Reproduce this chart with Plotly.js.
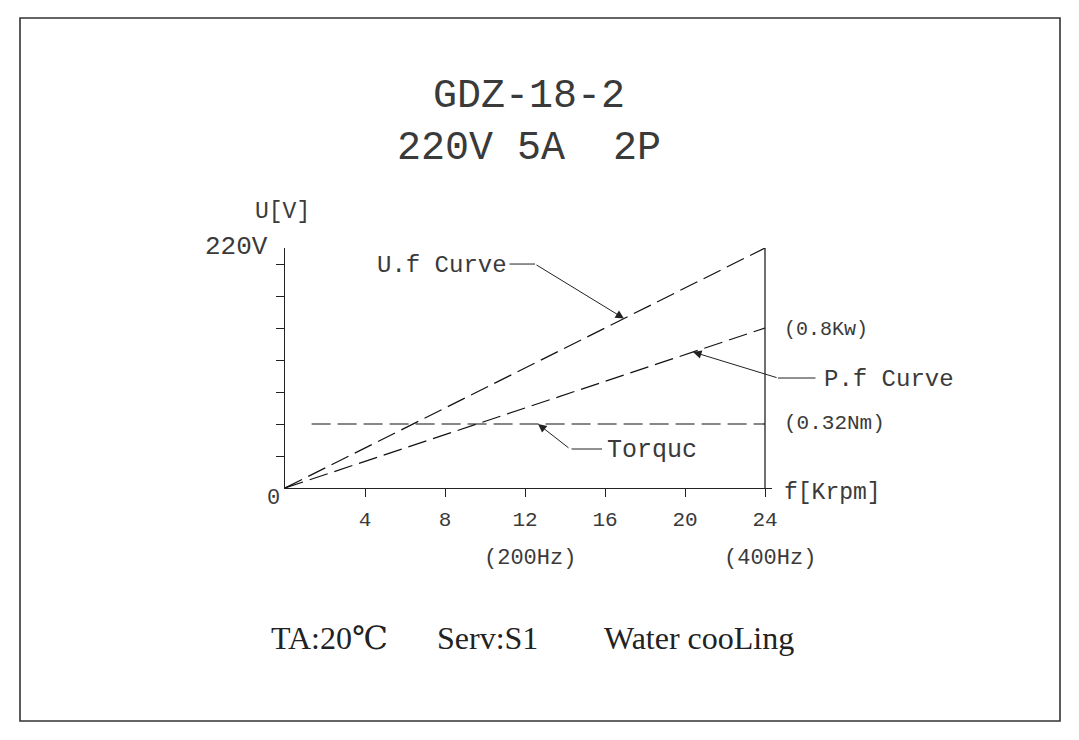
<!DOCTYPE html>
<html>
<head>
<meta charset="utf-8">
<script src="https://cdn.plot.ly/plotly-3.0.1.min.js"></script>
<style>html,body{margin:0;padding:0;background:#fff;}#chart{width:1079px;height:740px;}</style>
</head>
<body>
<div id="chart"></div>
<script>
// ---- data ----
const freqKrpm = [0, 24];            // f[Krpm]
const ufVolts = [0, 220];            // U.f curve, volts
const pfLevel = [0, 146.67];         // P.f curve, on the U scale (0.8Kw at 24 Krpm)
const torqueFreq = [1.33, 24];       // torque line extent
const torqueLevel = [58.67, 58.67];  // 0.32Nm constant torque, on the U scale
const xTickVals = [4, 8, 12, 16, 20, 24];
const xTickText = ['4', '8', '12', '16', '20', '24'];
const yTickVals = [1, 2, 3, 4, 5, 6, 7].map(k => k * 220 / 7.5);

const XMAX = 24.35, YMAX = 220;      // axis ranges
const PXX = 20, PXY = 240 / 220;     // pixels per unit

const MONO = 'Liberation Mono, DejaVu Sans Mono, monospace';
const SERIF = 'Liberation Serif, DejaVu Serif, serif';
const TXT = '#3a3a3a';
const LINE = '#111';
const dash = '19px,7px';

const traces = [
  {x: freqKrpm, y: ufVolts, mode: 'lines', line: {color: LINE, width: 1.2, dash: dash}},
  {x: freqKrpm, y: pfLevel, mode: 'lines', line: {color: LINE, width: 1.2, dash: dash}},
  {x: torqueFreq, y: torqueLevel, mode: 'lines', line: {color: LINE, width: 1.2, dash: dash}}
];

// positions given in axis units, converted to paper so that labels outside the plot stay visible
function txt(text, x, y, opts) {
  return Object.assign({text: text, x: x / XMAX, y: y / YMAX, xref: 'paper', yref: 'paper', showarrow: false,
    xanchor: 'left', yanchor: 'middle', font: {family: MONO, size: 22, color: TXT}}, opts || {});
}
function leader(x, y, ax, ay, head) {
  return {text: '', x: x / XMAX, y: y / YMAX, xref: 'paper', yref: 'paper', axref: 'pixel', ayref: 'pixel',
    ax: (ax - x) * PXX, ay: -(ay - y) * PXY,
    showarrow: true, arrowhead: head ? 2 : 0, arrowsize: 1.7, arrowwidth: 1, arrowcolor: '#222',
    standoff: 0, startstandoff: 0};
}

const annotations = [
  // title (two lines)
  txt('GDZ-18-2<br>220V 5A  2P', 12.2, 335.5, {xanchor: 'center', font: {family: MONO, size: 40, color: TXT}}),
  // axis labels
  txt('U[V]', -0.125, 253, {xanchor: 'center', font: {family: MONO, size: 23, color: TXT}}),
  txt('220V', -0.75, 221, {xanchor: 'right', font: {family: MONO, size: 26, color: TXT}}),
  txt('0', -0.6, -9.2, {xanchor: 'center', font: {family: MONO, size: 22, color: TXT}}),
  txt('f[Krpm]', 24.85, -4.6, {font: {family: MONO, size: 23, color: TXT}}),
  txt('(0.8Kw)', 24.85, 145.75, {font: {family: MONO, size: 20, color: TXT}}),
  txt('(0.32Nm)', 24.85, 58.67, {font: {family: MONO, size: 21, color: TXT}}),
  txt('(200Hz)', 12.25, -64.2, {xanchor: 'center', font: {family: MONO, size: 22, color: TXT}}),
  txt('(400Hz)', 24.25, -64.2, {xanchor: 'center', font: {family: MONO, size: 22, color: TXT}}),
  // curve labels
  txt('U.f Curve', 11.2, 204.4, {xanchor: 'right', font: {family: MONO, size: 24, color: TXT}}),
  txt('P.f Curve', 26.85, 99.9, {font: {family: MONO, size: 24, color: TXT}}),
  txt('Torquc', 16.0, 34.8, {font: {family: MONO, size: 25, color: TXT}}),
  // leaders
  leader(12.5, 205.3, 11.15, 205.3, false),
  leader(16.95, 155.4, 12.5, 205.3, true),
  leader(24.65, 100.83, 26.6, 100.83, false),
  leader(20.4, 124.67, 24.65, 100.83, true),
  leader(15.85, 35.75, 14.25, 35.75, false),
  leader(12.65, 58.67, 14.25, 35.75, true),
  // bottom conditions
  txt('TA:20℃', -0.8, -137.5, {font: {family: SERIF, size: 32, color: '#222'}}),
  txt('Serv:S1', 7.5, -137.5, {font: {family: SERIF, size: 32, color: '#222'}}),
  txt('Water cooLing', 15.85, -137.5, {font: {family: SERIF, size: 32, color: '#222'}})
];

const shapes = [
  {type: 'rect', xref: 'paper', yref: 'paper', x0: (20 - 285) / 487, x1: (1060 - 285) / 487,
   y0: (488 - 721) / 240, y1: (488 - 18) / 240, line: {color: '#333', width: 1.6}},
  {type: 'line', xref: 'x', yref: 'y', x0: 24, x1: 24, y0: 0, y1: 220, line: {color: '#222', width: 1.3}}
];

const layout = {
  width: 1079, height: 740,
  margin: {l: 285, r: 307, t: 248, b: 252, pad: 0},
  paper_bgcolor: '#fff', plot_bgcolor: '#fff',
  showlegend: false,
  xaxis: {range: [0, XMAX], showgrid: false, zeroline: false, showline: true, linecolor: '#222', linewidth: 1.3,
    tickmode: 'array', tickvals: xTickVals, ticktext: xTickText, ticks: 'outside', ticklen: 8,
    tickcolor: '#222', tickwidth: 1, ticklabelstandoff: 3,
    tickfont: {family: MONO, size: 21, color: TXT}, fixedrange: true},
  yaxis: {range: [0, YMAX], showgrid: false, zeroline: false, showline: true, linecolor: '#222', linewidth: 1.3,
    tickmode: 'array', tickvals: yTickVals, showticklabels: false, ticks: 'outside', ticklen: 8,
    tickcolor: '#222', tickwidth: 1, fixedrange: true},
  annotations: annotations,
  shapes: shapes
};

Plotly.newPlot('chart', traces, layout, {displayModeBar: false, staticPlot: true});
</script>
</body>
</html>
